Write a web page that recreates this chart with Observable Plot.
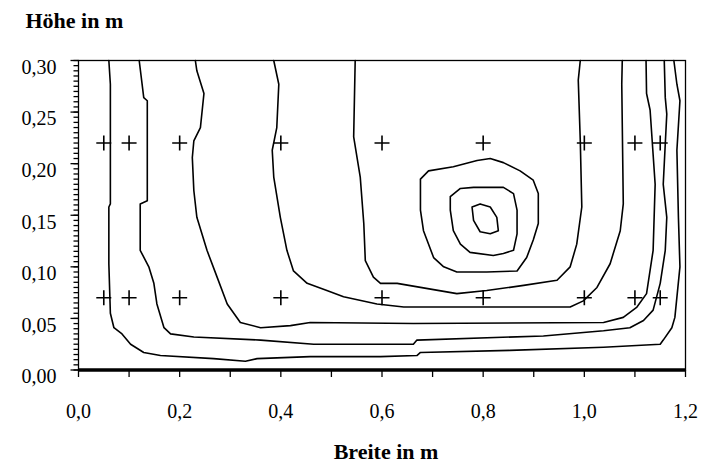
<!DOCTYPE html>
<html>
<head>
<meta charset="utf-8">
<script src="https://cdn.jsdelivr.net/npm/d3@7"></script>
<script src="https://cdn.jsdelivr.net/npm/@observablehq/plot@0.6"></script>
<style>
  html, body { margin: 0; padding: 0; background: #fff; }
  #chart svg { display: block; }
</style>
</head>
<body>
<div id="chart"></div>
<script>
// ---- data ----
const yTitle = "Höhe in m";
const xTitle = "Breite in m";
const xTickValues = [0, 0.2, 0.4, 0.6, 0.8, 1.0, 1.2];
const xMinorTicks = [0, 0.1, 0.2, 0.3, 0.4, 0.5, 0.6, 0.7, 0.8, 0.9, 1.0, 1.1, 1.2];
const yTickValues = [0, 0.05, 0.10, 0.15, 0.20, 0.25, 0.30];
const yMinorTicks = d3.range(0, 61).map(i => i * 0.005);
const baseline = [0];

// measurement points (+)
const crossX = [0.05, 0.1, 0.2, 0.4, 0.6, 0.8, 1.0, 1.1, 1.15];
const crossY = [0.07, 0.22];

// iso-lines, outer to inner
const contour1 = [[0.060,0.300],[0.063,0.277],[0.063,0.161],[0.060,0.158],[0.060,0.103],[0.063,0.055],[0.070,0.041],[0.086,0.035],[0.103,0.025],[0.129,0.017],[0.162,0.014],[0.267,0.011],[0.330,0.0085],[0.353,0.011],[0.458,0.013],[0.597,0.013],[0.669,0.014],[0.676,0.017],[0.853,0.019],[1.038,0.022],[1.150,0.025],[1.156,0.029],[1.173,0.041],[1.179,0.051],[1.189,0.100],[1.186,0.148],[1.183,0.213],[1.189,0.261],[1.183,0.277],[1.177,0.300]];
const contour2 = [[0.120,0.300],[0.129,0.264],[0.136,0.261],[0.136,0.164],[0.122,0.161],[0.122,0.116],[0.139,0.100],[0.149,0.084],[0.155,0.064],[0.169,0.041],[0.182,0.035],[0.228,0.032],[0.360,0.029],[0.465,0.025],[0.662,0.025],[0.669,0.029],[0.919,0.033],[1.038,0.038],[1.090,0.041],[1.117,0.048],[1.136,0.058],[1.150,0.084],[1.160,0.116],[1.163,0.148],[1.156,0.180],[1.160,0.219],[1.163,0.248],[1.160,0.264],[1.158,0.300]];
const contour3 = [[0.231,0.300],[0.234,0.290],[0.248,0.268],[0.241,0.235],[0.228,0.222],[0.225,0.206],[0.228,0.174],[0.234,0.148],[0.254,0.116],[0.274,0.090],[0.294,0.064],[0.320,0.046],[0.360,0.041],[0.419,0.043],[0.458,0.046],[0.662,0.045],[1.038,0.046],[1.077,0.051],[1.104,0.061],[1.123,0.074],[1.136,0.116],[1.140,0.180],[1.130,0.252],[1.123,0.268],[1.122,0.300]];
const contour4 = [[0.386,0.300],[0.396,0.277],[0.392,0.235],[0.383,0.213],[0.386,0.187],[0.399,0.148],[0.412,0.116],[0.425,0.096],[0.452,0.084],[0.491,0.077],[0.524,0.071],[0.590,0.064],[0.643,0.061],[0.807,0.061],[0.972,0.061],[0.998,0.067],[1.025,0.080],[1.051,0.103],[1.071,0.135],[1.077,0.161],[1.074,0.277],[1.075,0.300]];
const contour5 = [[0.547,0.300],[0.544,0.226],[0.557,0.187],[0.564,0.142],[0.567,0.106],[0.583,0.090],[0.597,0.084],[0.630,0.084],[0.748,0.074],[0.807,0.077],[0.880,0.082],[0.946,0.087],[0.972,0.100],[0.985,0.122],[0.995,0.158],[0.992,0.222],[0.988,0.281],[0.992,0.300]];
const contour6 = [[0.676,0.185],[0.692,0.193],[0.741,0.197],[0.788,0.203],[0.814,0.205],[0.840,0.201],[0.873,0.193],[0.899,0.184],[0.909,0.171],[0.909,0.142],[0.899,0.126],[0.886,0.109],[0.867,0.096],[0.807,0.095],[0.748,0.095],[0.722,0.100],[0.702,0.109],[0.682,0.135],[0.676,0.155],[0.676,0.185]];
const contour7 = [[0.735,0.168],[0.755,0.176],[0.781,0.177],[0.840,0.177],[0.860,0.171],[0.867,0.155],[0.867,0.132],[0.860,0.116],[0.840,0.113],[0.820,0.111],[0.774,0.114],[0.755,0.122],[0.741,0.135],[0.735,0.155],[0.735,0.168]];
const contour8 = [[0.778,0.158],[0.794,0.161],[0.814,0.158],[0.827,0.148],[0.830,0.135],[0.814,0.132],[0.794,0.134],[0.781,0.145],[0.778,0.158]];

// ---- build tables ----
const contours = [contour1, contour2, contour3, contour4, contour5, contour6, contour7, contour8];
const lineRows = contours.flatMap((c, i) => c.map(([x, y]) => ({id: i, x, y})));
const crosses = crossY.flatMap(y => crossX.map(x => ({x, y})));

const fmt = (d, n) => d.toFixed(n).replace(".", ",");
const serif = "'Liberation Serif', 'Times New Roman', serif";

const plusSym = {draw(ctx) { ctx.moveTo(-7.5, 0); ctx.lineTo(7.5, 0); ctx.moveTo(0, -7.5); ctx.lineTo(0, 7.5); }};
const tickLeftMinor = {draw(ctx) { ctx.moveTo(-5, 0); ctx.lineTo(0, 0); }};
const tickLeftMajor = {draw(ctx) { ctx.moveTo(-8, 0); ctx.lineTo(0, 0); }};
const tickDown = {draw(ctx) { ctx.moveTo(0, 0); ctx.lineTo(0, 7); }};

const chart = Plot.plot({
  width: 701,
  height: 466,
  marginLeft: 78,
  marginRight: 16,
  marginTop: 60,
  marginBottom: 96.5,
  style: {background: "#fff", color: "#000", fontFamily: serif},
  x: {domain: [0, 1.2], axis: null},
  y: {domain: [0, 0.3], axis: null},
  marks: [
    Plot.frame({stroke: "#000", strokeWidth: 1.3}),
    // y ticks
    Plot.dot(yMinorTicks, {y: d => d, frameAnchor: "left", symbol: tickLeftMinor, stroke: "#000", strokeWidth: 1.3, fill: "none"}),
    Plot.dot(yTickValues, {y: d => d, frameAnchor: "left", symbol: tickLeftMajor, stroke: "#000", strokeWidth: 1.3, fill: "none"}),
    Plot.text(yTickValues, {y: d => d, text: d => fmt(d, 2), frameAnchor: "left", textAnchor: "end", dx: -22, dy: 7, fontSize: 20, fontFamily: serif, fill: "#000"}),
    // x ticks
    Plot.dot(xMinorTicks, {x: d => d, frameAnchor: "bottom", symbol: tickDown, stroke: "#000", strokeWidth: 1.3, fill: "none"}),
    Plot.text(xTickValues, {x: d => d, text: d => fmt(d, 1), frameAnchor: "bottom", dy: 42, lineAnchor: "middle", fontSize: 20, fontFamily: serif, fill: "#000"}),
    // thick base line
    Plot.ruleY(baseline, {stroke: "#000", strokeWidth: 3.5}),
    // iso-lines
    Plot.line(lineRows, {x: "x", y: "y", z: "id", stroke: "#000", strokeWidth: 1.6, curve: "linear"}),
    // measurement points
    Plot.dot(crosses, {x: "x", y: "y", symbol: plusSym, stroke: "#000", strokeWidth: 1.6, fill: "none"}),
    // titles
    Plot.text([yTitle], {text: d => d, frameAnchor: "top-left", textAnchor: "start", lineAnchor: "middle", dx: -53, dy: -40, fontSize: 22, fontWeight: "bold", fontFamily: serif, fill: "#000"}),
    Plot.text([xTitle], {text: d => d, frameAnchor: "bottom", lineAnchor: "middle", dx: 4, dy: 82, fontSize: 22, fontWeight: "bold", fontFamily: serif, fill: "#000"})
  ]
});
document.getElementById("chart").appendChild(chart);
</script>
</body>
</html>
